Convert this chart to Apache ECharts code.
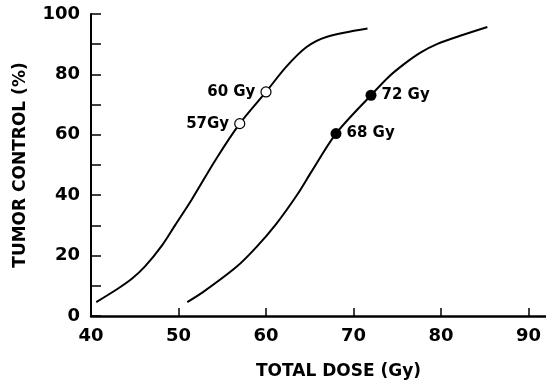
<!DOCTYPE html>
<html>
<head>
<meta charset="utf-8">
<script src="https://cdn.jsdelivr.net/npm/echarts@6/dist/echarts.min.js"></script>
<style>
  html, body { margin: 0; padding: 0; background: #fff; }
  #chart { width: 546px; height: 385px; }
</style>
</head>
<body>
<div id="chart"></div>
<script>
// dose (Gy) vs tumor control (%)
const leftCurve = [
  [40.6, 4.6], [43.1, 9.1], [44.7, 12.4], [46.2, 16.5], [48.1, 23.3], [49.6, 30],
  [51.5, 38.5], [54.3, 52], [57, 63.7], [60, 74.2], [62.3, 82.5],
  [64.6, 89], [66.9, 92.4], [71.6, 95.2]
];
const rightCurve = [
  [51, 4.6], [52.8, 7.9], [56.6, 16.2], [58.9, 22.8], [61.2, 30.6],
  [63.6, 40.3], [65.2, 47.8], [68, 60.4], [72, 73.1], [74.1, 79.4],
  [76, 83.9], [77.7, 87.3], [79.6, 90.1], [82.1, 92.7], [85.3, 95.7]
];
const openPoints = [[57, 63.7, '57Gy'], [60, 74.2, '60 Gy']];
const filledPoints = [[68, 60.4, '68 Gy'], [72, 73.1, '72 Gy']];
const xTicks = [40, 50, 60, 70, 80, 90];
const yTicks = [0, 20, 40, 60, 80, 100];

const font = 'DejaVu Sans';
const chart = echarts.init(document.getElementById('chart'));

const pointLabel = (pos) => ({
  show: true,
  position: pos,
  distance: 5,
  formatter: p => p.data[2],
  color: '#000',
  fontFamily: font,
  fontWeight: 'bold',
  fontSize: 15
});

const option = {
  animation: false,
  grid: { left: 91, right: 0, top: 14, bottom: 69 },
  xAxis: {
    type: 'value',
    min: 40,
    max: 92,
    interval: 10,
    splitLine: { show: false },
    axisLine: { lineStyle: { color: '#000', width: 2.5 } },
    axisTick: { inside: true, length: 8, lineStyle: { color: '#000', width: 1.5 } },
    axisLabel: {
      margin: 11,
      color: '#000',
      fontFamily: font,
      fontWeight: 'bold',
      fontSize: 18,
      showMaxLabel: false,
      formatter: v => (xTicks.includes(v) ? String(v) : '')
    },
    name: 'TOTAL DOSE (Gy)',
    nameLocation: 'middle',
    nameGap: 47,
    nameTextStyle: {
      color: '#000',
      fontFamily: font,
      fontWeight: 'bold',
      fontSize: 17,
      padding: [0, 0, 0, 40]
    }
  },
  yAxis: {
    type: 'value',
    min: 0,
    max: 100,
    interval: 10,
    splitLine: { show: false },
    axisLine: { lineStyle: { color: '#000', width: 2 } },
    axisTick: { inside: true, length: 10, lineStyle: { color: '#000', width: 1.5 } },
    axisLabel: {
      margin: 11,
      color: '#000',
      fontFamily: font,
      fontWeight: 'bold',
      fontSize: 18,
      formatter: v => (yTicks.includes(v) ? String(v) : '')
    },
    name: 'TUMOR CONTROL (%)',
    nameLocation: 'middle',
    nameGap: 62,
    nameTextStyle: {
      color: '#000',
      fontFamily: font,
      fontWeight: 'bold',
      fontSize: 17
    }
  },
  series: [
    {
      type: 'line',
      data: leftCurve,
      smooth: 0.3,
      showSymbol: false,
      lineStyle: { color: '#000', width: 2 }
    },
    {
      type: 'line',
      data: rightCurve,
      smooth: 0.3,
      showSymbol: false,
      lineStyle: { color: '#000', width: 2 }
    },
    {
      type: 'scatter',
      data: openPoints,
      symbolSize: 10,
      z: 5,
      itemStyle: { color: '#fff', borderColor: '#000', borderWidth: 1.2, opacity: 1 },
      label: pointLabel('left')
    },
    {
      type: 'scatter',
      data: filledPoints,
      symbolSize: 11,
      z: 5,
      itemStyle: { color: '#000', opacity: 1 },
      label: pointLabel('right')
    }
  ]
};

chart.setOption(option);
</script>
</body>
</html>
